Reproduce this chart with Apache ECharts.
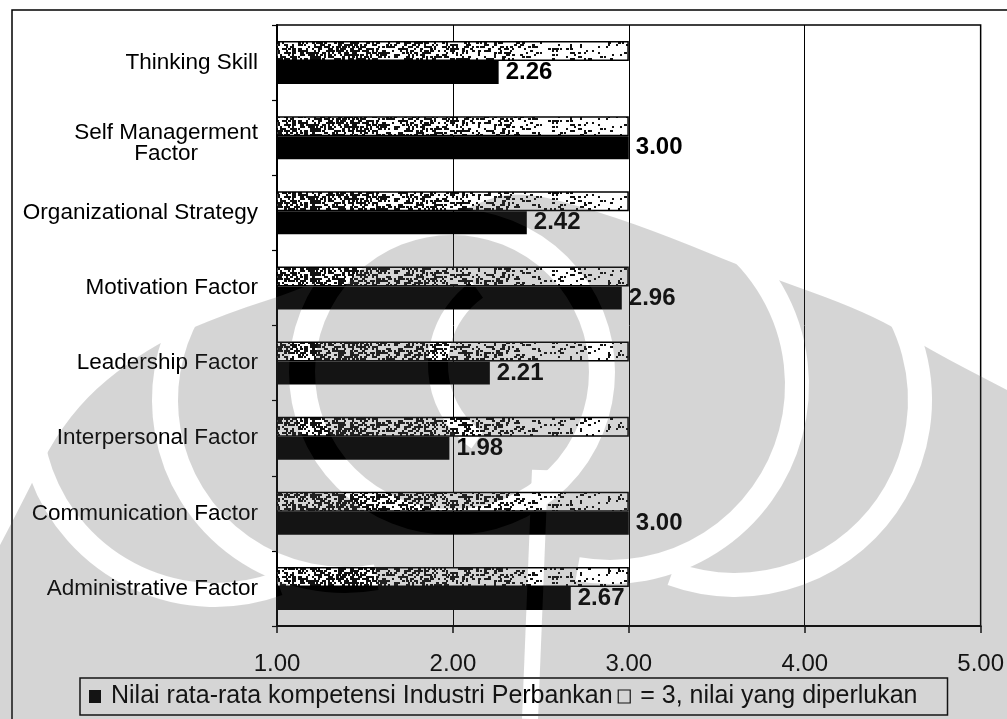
<!DOCTYPE html>
<html>
<head>
<meta charset="utf-8">
<script src="https://cdn.jsdelivr.net/npm/echarts@6/dist/echarts.min.js"></script>
<style>
  html, body { margin: 0; padding: 0; background: #fff; }
  #chart { width: 1007px; height: 719px; }
</style>
</head>
<body>
<div id="chart"></div>
<script>
// Competency categories, listed from the bottom of the axis to the top
const categories = [
  'Administrative Factor',
  'Communication Factor',
  'Interpersonal Factor',
  'Leadership Factor',
  'Motivation Factor',
  'Organizational Strategy',
  'Self Managerment Factor',
  'Thinking Skill'
];
// Average competency score of the banking industry
const averageScores = [2.67, 3.00, 1.98, 2.21, 2.96, 2.42, 3.00, 2.26];
// Required level (= 3) for every competency
const requiredScores = [3, 3, 3, 3, 3, 3, 3, 3];
// Value axis ticks and their labels
const xTicks = [1, 2, 3, 4, 5];
const xTickLabels = ['1.00', '2.00', '3.00', '4.00', '5.00'];
const seriesNames = ['Nilai rata-rata kompetensi Industri Perbankan', '= 3, nilai yang diperlukan'];

const FONT = '"Liberation Sans", Arial, Helvetica, sans-serif';

// Deterministic hash used for the speckled fill texture
function hash2(x, y) {
  let h = (Math.imul(x, 374761393) + Math.imul(y, 668265263)) | 0;
  h = Math.imul(h ^ (h >>> 13), 1274126177);
  h = h ^ (h >>> 16);
  return (h >>> 0) / 4294967296;
}

// Speckled pattern: dense on the left, thinning out towards the right
function makeStipple() {
  const c = document.createElement('canvas');
  c.width = 1007; c.height = 24;
  const g = c.getContext('2d');
  g.fillStyle = '#fff';
  g.fillRect(0, 0, c.width, c.height);
  g.fillStyle = '#111';
  for (let y = 0; y < c.height; y += 2) {
    for (let x = 0; x < c.width; x += 2) {
      const t = Math.min(1, Math.max(0, (x - 277) / 352));
      const p = 0.55 - 0.45 * t;
      const n = hash2(x, y);
      if (n < p) g.fillRect(x, y, n < p * 0.4 ? 3 : 2, 2);
    }
  }
  return c;
}

// Light grey emblem printed over the page
function makeEmblem() {
  const c = document.createElement('canvas');
  c.width = 1007; c.height = 719;
  const g = c.getContext('2d');
  g.fillStyle = '#545454';
  // outline of the emblem's upper edge, then down to the page bottom
  const edge = [
    [0, 545], [17, 513], [67, 413], [147, 347], [230, 312], [300, 290],
    [400, 245], [470, 205], [520, 190], [600, 212], [670, 237], [750, 270],
    [870, 313], [930, 350], [1007, 390]
  ];
  g.beginPath();
  g.moveTo(edge[0][0], edge[0][1]);
  for (let i = 1; i < edge.length - 1; i++) {
    const mx = (edge[i][0] + edge[i + 1][0]) / 2;
    const my = (edge[i][1] + edge[i + 1][1]) / 2;
    g.quadraticCurveTo(edge[i][0], edge[i][1], mx, my);
  }
  g.lineTo(edge[edge.length - 1][0], edge[edge.length - 1][1]);
  g.lineTo(1007, 719);
  g.lineTo(0, 719);
  g.closePath();
  g.fill();

  g.globalCompositeOperation = 'destination-out';
  g.strokeStyle = '#000';
  const band = (cx, cy, r, a0, a1, w) => {
    g.lineWidth = w;
    g.beginPath();
    g.arc(cx, cy, r, a0 * Math.PI / 180, a1 * Math.PI / 180);
    g.stroke();
  };
  band(452, 372, 150, 0, 360, 26);
  band(530, 365, 92, 125, 235, 20);
  band(610, 385, 187, -75, 100, 24);
  band(735, 400, 185, -60, 110, 24);
  band(345, 400, 180, 80, 250, 26);
  band(215, 410, 185, 70, 235, 24);
  g.lineWidth = 16;
  g.beginPath(); g.moveTo(540, 470); g.lineTo(530, 719); g.stroke();
  return c;
}

const chart = echarts.init(document.getElementById('chart'), null, { renderer: 'canvas' });

chart.setOption({
  backgroundColor: '#fff',
  animation: false,
  textStyle: { fontFamily: FONT },
  grid: {
    left: 277, right: 26, top: 25, bottom: 93,
    show: true, borderColor: '#000', borderWidth: 1.5, backgroundColor: 'transparent'
  },
  legend: {
    left: 80, top: 678,
    orient: 'horizontal',
    icon: 'rect',
    itemWidth: 12, itemHeight: 13, itemGap: 5,
    padding: [6, 30, 6, 9],
    borderColor: '#000', borderWidth: 1.5,
    textStyle: { fontSize: 25, color: '#000', fontFamily: FONT, padding: [0, 0, 0, 5] },
    data: [
      { name: seriesNames[0], itemStyle: { color: '#000' } },
      { name: seriesNames[1], itemStyle: { color: '#fff', borderColor: '#000', borderWidth: 1.2 } }
    ]
  },
  xAxis: {
    type: 'value',
    min: 1, max: 5, interval: 1,
    axisLine: { show: true, lineStyle: { color: '#000', width: 2 } },
    axisTick: { show: true, length: 7, lineStyle: { color: '#000', width: 1.5 } },
    splitLine: { show: true, lineStyle: { color: '#000', width: 1 } },
    axisLabel: {
      margin: 26, fontSize: 24, color: '#000', fontFamily: FONT,
      formatter: v => xTickLabels[xTicks.indexOf(v)]
    }
  },
  yAxis: {
    type: 'category',
    data: categories,
    axisLine: { show: true, lineStyle: { color: '#000', width: 2 } },
    axisTick: { show: true, length: 5, lineStyle: { color: '#000', width: 1.2 } },
    axisLabel: {
      interval: 0, margin: 19, fontSize: 22.5, color: '#000', fontFamily: FONT,
      formatter: v => v === 'Self Managerment Factor' ? '{s| }\n{c|Self Managerment}\n{c|Factor}' : v,
      rich: {
        s: { fontSize: 1, lineHeight: 12 },
        c: { align: 'center', fontSize: 22.5, lineHeight: 21, color: '#000', fontFamily: FONT }
      }
    }
  },
  series: [
    {
      name: seriesNames[1],
      type: 'bar',
      data: requiredScores,
      barWidth: 20,
      barGap: '0%',
      itemStyle: {
        color: { image: makeStipple(), repeat: 'repeat' },
        borderColor: '#000', borderWidth: 1.5
      }
    },
    {
      name: seriesNames[0],
      type: 'bar',
      data: averageScores,
      barWidth: 23,
      barGap: '0%',
      itemStyle: { color: '#000' },
      label: {
        show: true, position: 'right', distance: 7,
        fontSize: 24, fontWeight: 'bold', color: '#000', fontFamily: FONT,
        formatter: p => p.value.toFixed(2)
      }
    }
  ],
  graphic: [
    {
      type: 'rect', z: 90, silent: true,
      shape: { x: 12, y: 10, width: 1010, height: 740 },
      style: { fill: 'none', stroke: '#000', lineWidth: 1.5 }
    },
    {
      type: 'image', z: 100, silent: true, left: 0, top: 0,
      style: { image: makeEmblem(), x: 0, y: 0, width: 1007, height: 719, opacity: 0.24 }
    }
  ]
});
</script>
</body>
</html>
